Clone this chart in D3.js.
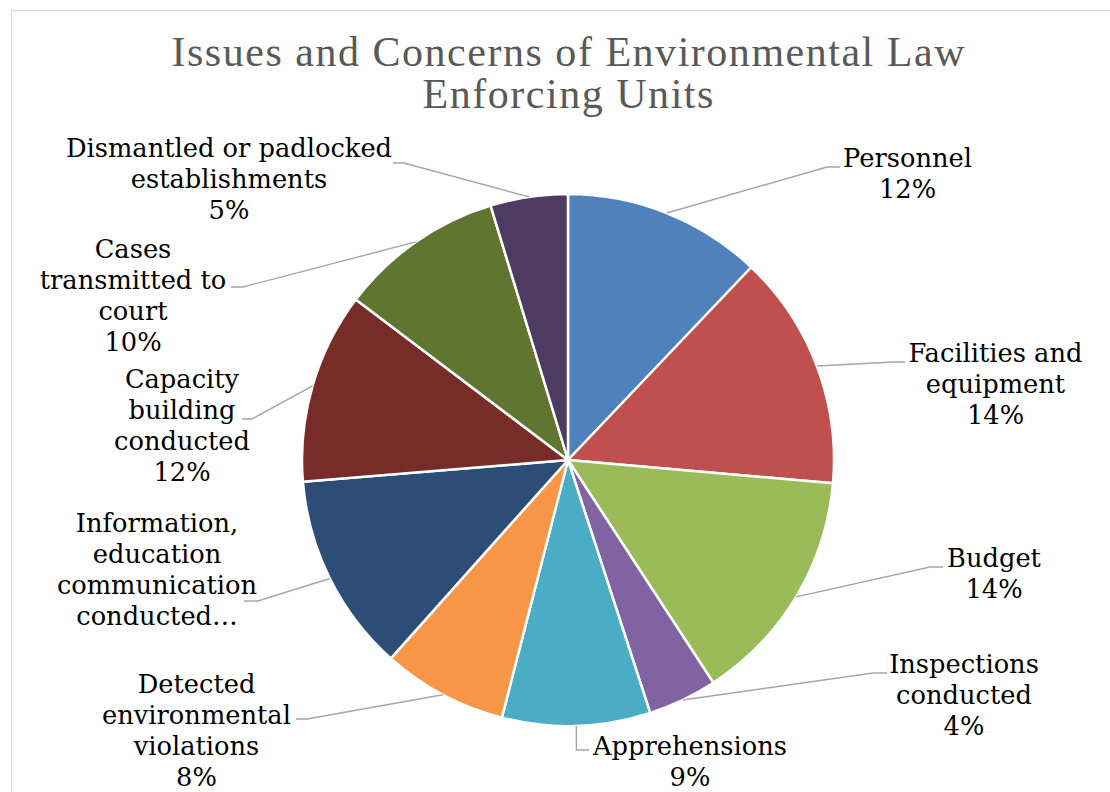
<!DOCTYPE html>
<html>
<head>
<meta charset="utf-8">
<script src="https://cdn.jsdelivr.net/npm/d3@7"></script>
<style>
  html, body { margin: 0; padding: 0; background: #ffffff; }
  svg { display: block; }
</style>
</head>
<body>
<svg id="chart" width="1110" height="792"></svg>
<script>
// Issues and concerns reported by environmental law enforcing units (share of responses, %)
const categories = [
  "Personnel",
  "Facilities and equipment",
  "Budget",
  "Inspections conducted",
  "Apprehensions",
  "Detected environmental violations",
  "Information, education communication conducted",
  "Capacity building conducted",
  "Cases transmitted to court",
  "Dismantled or padlocked establishments"
];
const shares = [12.1, 14.3, 14.4, 4.2, 9.0, 7.6, 12.1, 11.6, 10.0, 4.7];

// Wrapped label text for each category
const labelNames = [
  ["Personnel"],
  ["Facilities and", "equipment"],
  ["Budget"],
  ["Inspections", "conducted"],
  ["Apprehensions"],
  ["Detected", "environmental", "violations"],
  ["Information,", "education", "communication", "conducted"],
  ["Capacity", "building", "conducted"],
  ["Cases", "transmitted to", "court"],
  ["Dismantled or padlocked", "establishments"]
];

const sliceColors = [
  "#4F81BD", "#C0504D", "#9BBB59", "#8064A2", "#4BACC6",
  "#F79646", "#2C4D75", "#772C2A", "#5F7530", "#4D3B62"
];

const titleLines = ["Issues and Concerns of Environmental Law", "Enforcing Units"];

// ---- layout ----
const W = 1110, H = 792;
const cx = 568, cy = 460, R = 266;
const lineGap = 31;
const maxLabelLines = 4;

// label block placement: centre x, first baseline y, leader elbow and leader end
const labelLayout = [
  { x: 907.5, y: 167, elbow: [827, 167], end: [840, 167] },
  { x: 995.5, y: 362, elbow: [893, 362], end: [905, 362] },
  { x: 994,   y: 567, elbow: [930, 567], end: [943, 567] },
  { x: 964,   y: 673, elbow: [873, 673], end: [887, 673] },
  { x: 690,   y: 755, elbow: [577, 750], end: [589, 750] },
  { x: 196.5, y: 693, elbow: [307, 719], end: [296, 719] },
  { x: 157,   y: 532, elbow: [258, 601], end: [244, 601] },
  { x: 182,   y: 388, elbow: [252, 419], end: [242, 419] },
  { x: 133,   y: 258, elbow: [243, 287], end: [231, 287] },
  { x: 229,   y: 157, elbow: [404, 163], end: [393, 163] }
];

const svg = d3.select("#chart");

// outer chart frame
svg.append("rect")
  .attr("x", 11.5).attr("y", 10.5)
  .attr("width", 1200).attr("height", 900)
  .attr("fill", "#ffffff")
  .attr("stroke", "#d9d9d9")
  .attr("stroke-width", 1);

// measure a string at a given family and size
function measure(family, size, sample, spacing) {
  const t = svg.append("text")
    .attr("font-family", family)
    .attr("font-size", size)
    .attr("letter-spacing", spacing || 0)
    .text(sample);
  const w = t.node().getComputedTextLength();
  t.remove();
  return w;
}

const labelFont = "'DejaVu Serif', serif";
const titleFont = "'Liberation Serif', serif";
const labelSize = 100 * 194 / measure(labelFont, 100, "Apprehensions");
const titleSize = 42;
const titleSpacing = (793 - measure(titleFont, titleSize, titleLines[0])) / (titleLines[0].length - 1);

// title (two lines in one text element)
svg.append("text")
  .attr("text-anchor", "middle")
  .attr("font-family", titleFont)
  .attr("font-size", titleSize)
  .attr("letter-spacing", titleSpacing)
  .attr("fill", "#595959")
  .selectAll("tspan")
  .data(titleLines)
  .join("tspan")
  .attr("x", cx + titleSpacing / 2)
  .attr("y", (d, i) => 66 + i * 42)
  .text(d => d);

// pie
const data = categories.map((c, i) => ({ name: c, value: shares[i], i }));
const pie = d3.pie().sort(null).value(d => d.value);
const arcs = pie(data);
const total = d3.sum(shares);
const arc = d3.arc().innerRadius(0).outerRadius(R);

const g = svg.append("g").attr("transform", `translate(${cx},${cy})`);
g.selectAll("path")
  .data(arcs)
  .join("path")
  .attr("d", arc)
  .attr("fill", d => sliceColors[d.data.i])
  .attr("stroke", "#ffffff")
  .attr("stroke-width", 2.5)
  .attr("stroke-linejoin", "round");

// leader lines
const line = d3.line();
svg.append("g")
  .selectAll("path")
  .data(arcs)
  .join("path")
  .attr("d", d => {
    const a = (d.startAngle + d.endAngle) / 2;
    const start = [cx + R * Math.sin(a), cy - R * Math.cos(a)];
    const L = labelLayout[d.data.i];
    const elbow = d.data.i === 4 ? [start[0], L.elbow[1]] : L.elbow;
    return line([start, elbow, L.end]);
  })
  .attr("fill", "none")
  .attr("stroke", "#a6a6a6")
  .attr("stroke-width", 1.4);

// data labels: name lines followed by percentage, clipped to the label box
const pct = v => Math.round(v / total * 100) + "%";
const labelG = svg.append("g")
  .attr("font-family", labelFont)
  .attr("font-size", labelSize)
  .attr("fill", "#000000")
  .attr("text-anchor", "middle");

arcs.forEach(d => {
  const i = d.data.i;
  let lines = labelNames[i].concat([pct(d.data.value)]);
  if (lines.length > maxLabelLines) {
    lines = lines.slice(0, maxLabelLines);
    lines[maxLabelLines - 1] = lines[maxLabelLines - 1] + "…";
  }
  const L = labelLayout[i];
  labelG.append("text")
    .selectAll("tspan")
    .data(lines)
    .join("tspan")
    .attr("x", L.x)
    .attr("y", (t, k) => L.y + k * lineGap)
    .text(t => t);
});
</script>
</body>
</html>
